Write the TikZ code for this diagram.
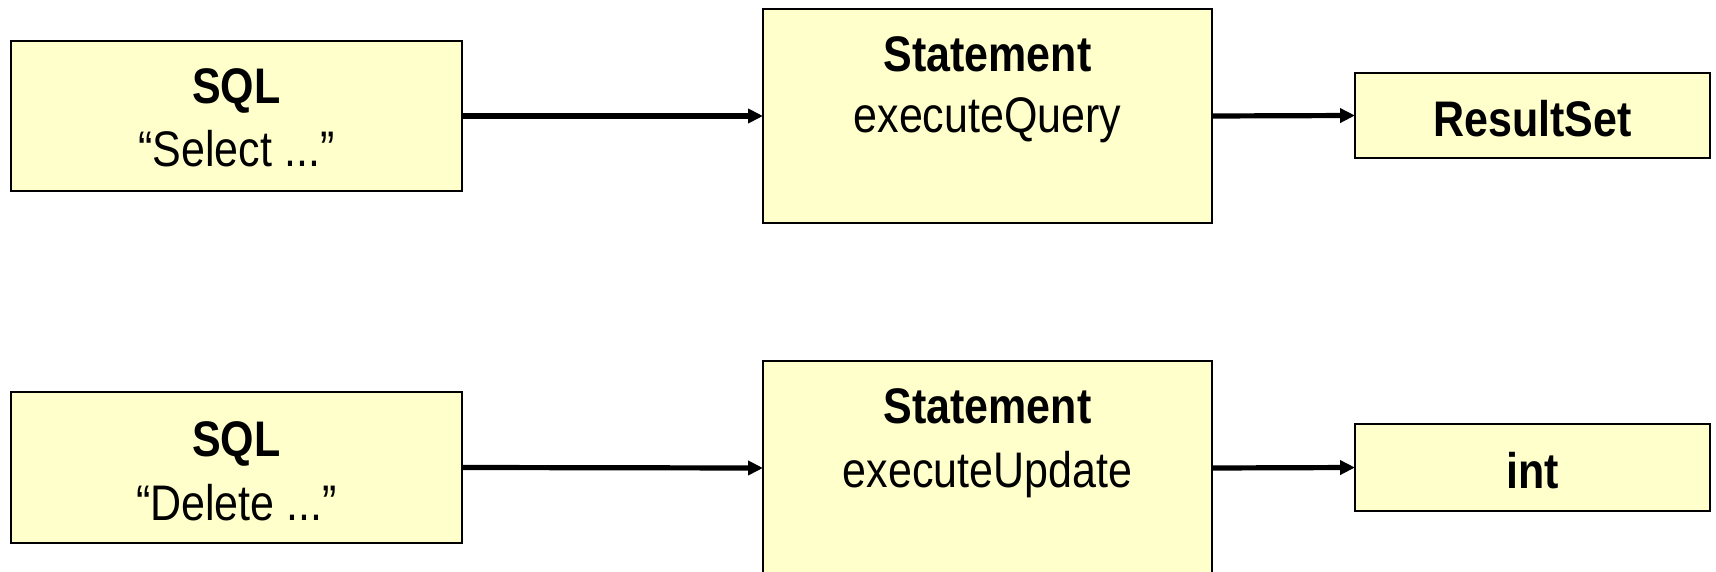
\documentclass[tikz,border=0pt]{standalone}
\usepackage{fontspec}
\setmainfont{Liberation Sans}[FakeStretch=0.86]
\usetikzlibrary{arrows.meta}
\definecolor{boxfill}{HTML}{FFFFCC}
\tikzset{
  box/.style={draw=black, line width=1.3pt, fill=boxfill, rectangle, inner sep=0pt, outer sep=0pt},
  txt/.style={anchor=base, inner sep=0pt, font=\fontsize{25}{30}\selectfont},
  btxt/.style={txt, font=\fontsize{25}{30}\selectfont\bfseries},
  conn/.style={line width=2.6pt, -{Triangle[length=7.5pt,width=7pt]}}
}
\begin{document}
\begin{tikzpicture}[x=0.5pt,y=-0.5pt]
\useasboundingbox (0,0) rectangle (1716,572);
\clip (0,0) rectangle (1716,572);
% top row
\node[box, minimum width=225.5pt, minimum height=75pt] (sql1) at (236.5,116) {};
\node[box, minimum width=224.5pt, minimum height=107pt] (st1) at (987.5,116) {};
\node[box, minimum width=177.5pt, minimum height=42.5pt] (rs) at (1532.5,115.5) {};
\node[btxt] (sql1a) at (236.5,104) {SQL};
\node[txt] (sql1b) at (236.5,167) {“Select ...”};
\node[btxt] (st1a) at (987.5,72) {Statement};
\node[txt] (st1b) at (987.5,133) {executeQuery};
\node[btxt] (rst) at (1532.5,137) {ResultSet};
\draw[conn] (sql1.east) -- (st1.west);
\draw[conn] (st1.east) -- (rs.west);
% bottom row
\node[box, minimum width=225.5pt, minimum height=75.5pt] (sql2) at (236.5,467.5) {};
\node[box, minimum width=224.5pt, minimum height=107pt] (st2) at (987.5,468) {};
\node[box, minimum width=177.5pt, minimum height=43.5pt] (int) at (1532.5,467.5) {};
\node[btxt] (sql2a) at (236.5,456) {SQL};
\node[txt] (sql2b) at (236.5,520) {“Delete ...”};
\node[btxt] (st2a) at (987.5,423) {Statement};
\node[txt] (st2b) at (987.5,487) {executeUpdate};
\node[btxt] (intt) at (1532.5,488) {int};
\draw[conn] (sql2.east) -- (st2.west);
\draw[conn] (st2.east) -- (int.west);
\end{tikzpicture}
\end{document}
